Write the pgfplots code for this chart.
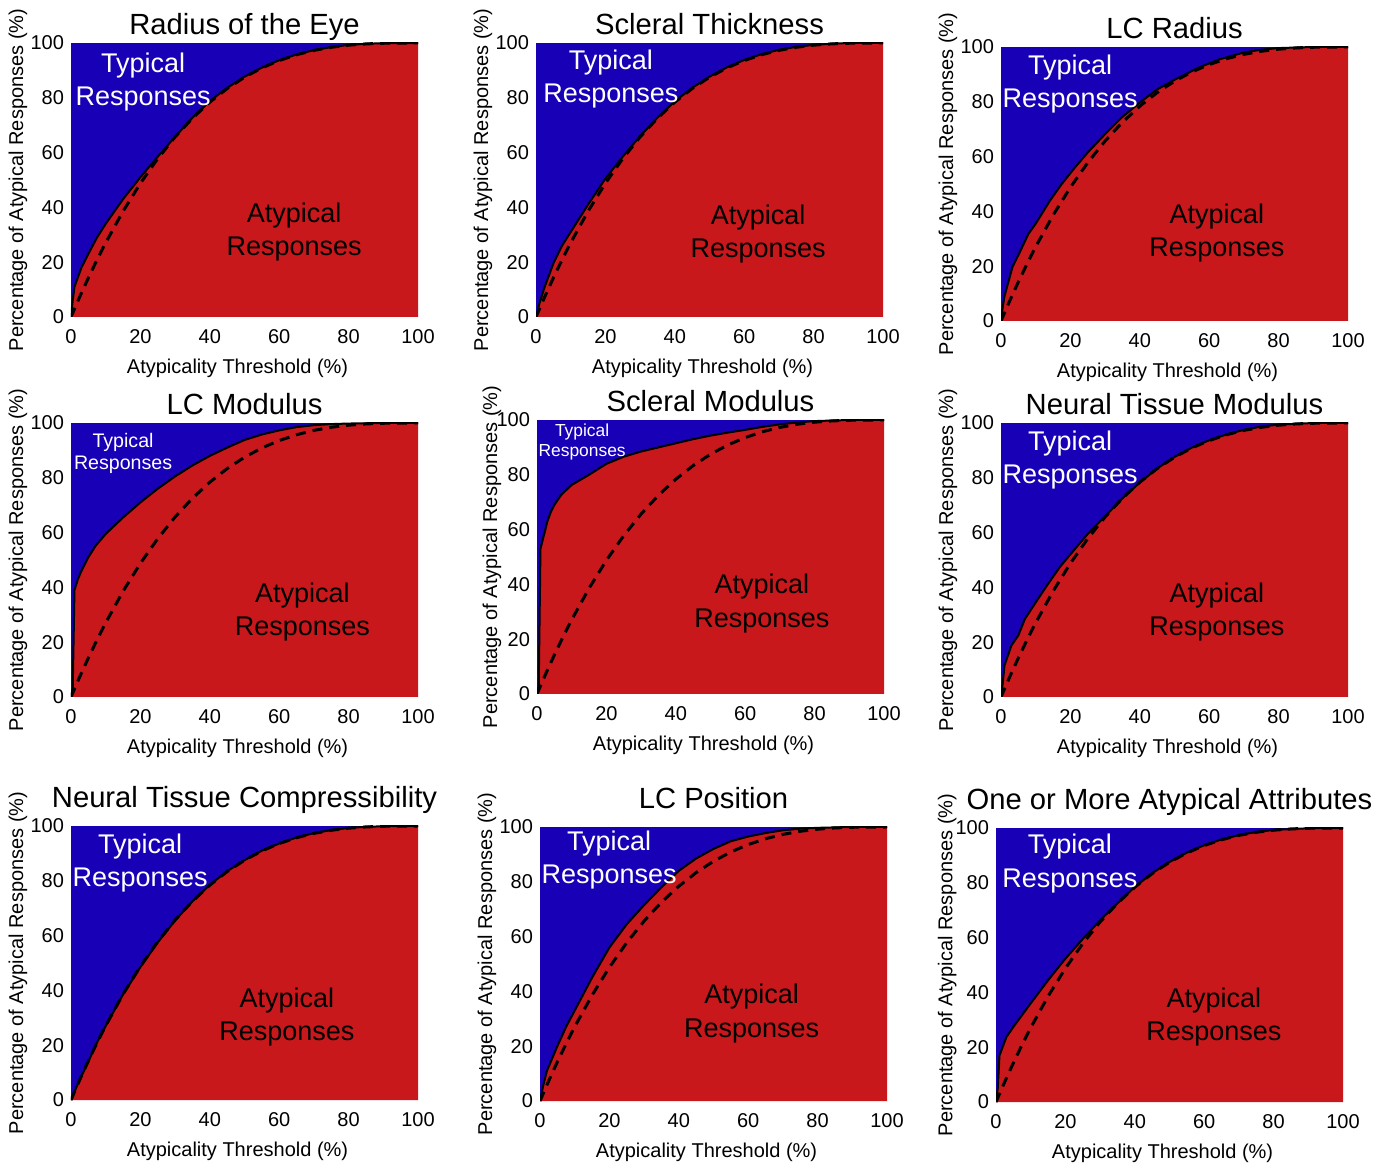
\documentclass[border=0pt]{standalone}
\usepackage{fontspec}
\setmainfont{Liberation Sans}
\usepackage{pgfplots}
\usepackage{pgfplotstable}
\pgfplotsset{compat=1.18}

\definecolor{typblue}{RGB}{24,0,182}
\definecolor{atyred}{RGB}{200,24,28}

% reference curve (dashed), the same in every panel
\pgfplotstableread{
x y
0 0
2.5 7.31
5 14.26
7.5 20.85
10 27.10
15 38.59
20 48.80
25 57.81
30 65.70
35 72.54
40 78.40
45 83.36
50 87.50
55 90.89
60 93.60
65 95.71
70 97.30
75 98.44
80 99.20
85 99.66
90 99.90
95 99.99
100 100
}\refcurve

\pgfplotstableread{
x y
0 0
0.5 6
1 11
3 18
5 23
7.5 29
10 34
15 43
20 51
25 58.5
30 65.8
35 72.7
40 78.8
45 83.6
50 87.7
55 91
60 93.7
65 95.8
70 97.4
75 98.5
80 99.3
85 99.7
90 99.95
100 100
}\eyeR

\pgfplotstableread{
x y
0 0
1 5
2.5 11
5 19.5
7.5 26
10 31
15 41
20 50.5
25 58.5
30 66
35 72.7
40 78.7
45 83.6
50 87.7
55 91.1
60 93.8
65 95.9
70 97.5
75 98.6
80 99.3
85 99.7
90 100
100 100
}\sclT

\pgfplotstableread{
x y
0 0
0.5 5
1 9
3.3 19.7
5 24
7.9 31.8
10 35.5
14.1 43.9
17.5 50
21.3 56
25 61.5
30 68.2
35 74.5
40.6 80.3
45 84.5
50 88
57 92.5
63 95.5
70 98
75 99
80 99.6
90 100
100 100
}\lcR

\pgfplotstableread{
x y
0 0
0.5 3
1 39
2 43
3 46
5 51
7 55
10 59.5
15 65.5
20 71
25 76
30 80.5
35 84.5
40 88
45 91
50 93.8
55 95.8
60 97.3
65 98.5
70 99.2
75 99.6
80 99.8
90 100
100 100
}\lcM

\pgfplotstableread{
x y
0 0
0.5 3
1 53
2 58
3 63
4 66.5
5 69
7 72.7
10 76.3
15 80
20 84
25 86.6
30 88.5
35 90
40 91.5
45 93
50 94.3
55 95.4
60 96.4
65 97.5
70 98.4
75 99.1
80 99.6
90 100
100 100
}\sclM

\pgfplotstableread{
x y
0 0
0.5 5
1 11.5
3 18.8
5 22.5
6.9 28.5
10 34.5
13.2 40.6
17 47.5
21.3 54
25 59.5
30 66
35 72.5
39.6 77.8
45 83.4
50 87.6
55 91
60 93.7
65 95.8
70 97.5
75 98.7
80 99.4
90 100
100 100
}\ntM

\pgfplotstableread{
x y
0 0
1 3
2.5 7.3
5 14
7.5 21
10 27
15 38.5
20 48.5
25 57.5
30 65.5
35 72.5
40 78.5
45 83.5
50 87.5
55 91
60 93.6
65 95.8
70 97.4
75 98.5
80 99.3
85 99.7
90 99.9
100 100
}\ntC

\pgfplotstableread{
x y
0 0
1 6
2 11
5 20
7.5 27
10 33
15 45
20 56
25 64.5
30 71.5
35 78
40 84
45 88.5
50 92
55 94.8
60 96.5
65 97.8
70 98.8
75 99.4
80 99.7
90 100
100 100
}\lcP

\pgfplotstableread{
x y
0 0
0.5 5
1 17
3 23.7
5 27.4
10 36
15 44.4
20 52.3
25 59.5
30 66.3
35 72.5
40 78.5
45 83.5
50 87.6
55 91
60 93.7
65 95.8
70 97.4
75 98.5
80 99.3
90 99.9
100 100
}\oneM

\tikzset{
  big/.style={font=\fontsize{13.5}{16.7}\selectfont, align=center},
}

\pgfplotsset{
  panel/.style={
    scale only axis, width=173.5pt, height=137pt,
    anchor=south west,
    xmin=0, xmax=100, ymin=0, ymax=100,
    xtick={0,20,...,100}, ytick={0,20,...,100},
    axis line style={draw=none}, major tick length=0pt,
    axis background/.style={fill=typblue},
    /pgf/number format/assume math mode=true,
    tick label style={font=\fontsize{10}{12}\selectfont},
    xticklabel style={yshift=-2.5pt},
    xlabel={Atypicality Threshold (\%)},
    ylabel={Percentage of Atypical Responses (\%)},
    label style={font=\fontsize{10}{12}\selectfont},
    xlabel style={at={(axis description cs:0.48,-0.186)}, anchor=center},
    ylabel style={at={(axis description cs:-0.153,0.5)}, anchor=center},
    title style={font=\fontsize{14.6}{17}\selectfont, at={(axis description cs:0.5,0.989)}, anchor=base},
  },
  row3/.style={title style={at={(axis description cs:0.5,1.025)}}},
  aty/.style={fill=atyred, draw=none},
  cur/.style={black, line width=1pt},
  refc/.style={black, line width=1.5pt, dash pattern=on 5pt off 3.5pt},
}

\begin{document}
\begin{tikzpicture}
\useasboundingbox (0,0) rectangle (693pt,583.5pt);

% row 1
\begin{axis}[panel, at={(35.5pt,425pt)}, title={Radius of the Eye}]
  \addplot[aty] table {\eyeR} \closedcycle;
  \addplot[refc] table {\refcurve};
  \addplot[cur] table {\eyeR};
  \node[big, text=white] at (axis cs:20.8,85.8) {Typical\\Responses};
  \node[big, text=black] at (axis cs:64.3,31) {Atypical\\Responses};
\end{axis}

\begin{axis}[panel, at={(268pt,425pt)}, title={Scleral Thickness}]
  \addplot[aty] table {\sclT} \closedcycle;
  \addplot[refc] table {\refcurve};
  \addplot[cur] table {\sclT};
  \node[big, text=white] at (axis cs:21.6,86.9) {Typical\\Responses};
  \node[big, text=black] at (axis cs:64,30.3) {Atypical\\Responses};
\end{axis}

\begin{axis}[panel, at={(500.5pt,423pt)}, title={LC Radius}]
  \addplot[aty] table {\lcR} \closedcycle;
  \addplot[refc] table {\refcurve};
  \addplot[cur] table {\lcR};
  \node[big, text=white] at (axis cs:19.9,86.5) {Typical\\Responses};
  \node[big, text=black] at (axis cs:62.2,32) {Atypical\\Responses};
\end{axis}

% row 2
\begin{axis}[panel, at={(35.5pt,235pt)}, title={LC Modulus}]
  \addplot[aty] table {\lcM} \closedcycle;
  \addplot[refc] table {\refcurve};
  \addplot[cur] table {\lcM};
  \node[font=\fontsize{9.8}{11}\selectfont, align=center, text=white] at (axis cs:15,89) {Typical\\Responses};
  \node[big, text=black] at (axis cs:66.7,31) {Atypical\\Responses};
\end{axis}

\begin{axis}[panel, at={(268.5pt,236.5pt)}, title={Scleral Modulus},
  ylabel style={at={(axis description cs:-0.13,0.5)}}]
  \addplot[aty] table {\sclM} \closedcycle;
  \addplot[refc] table {\refcurve};
  \addplot[cur] table {\sclM};
  \node[font=\fontsize{8.7}{9.8}\selectfont, align=center, text=white] at (axis cs:13,92) {Typical\\Responses};
  \node[big, text=black] at (axis cs:64.8,33) {Atypical\\Responses};
\end{axis}

\begin{axis}[panel, at={(500.5pt,235pt)}, title={Neural Tissue Modulus}]
  \addplot[aty] table {\ntM} \closedcycle;
  \addplot[refc] table {\refcurve};
  \addplot[cur] table {\ntM};
  \node[big, text=white] at (axis cs:19.9,86.5) {Typical\\Responses};
  \node[big, text=black] at (axis cs:62.2,31) {Atypical\\Responses};
\end{axis}

% row 3
\begin{axis}[panel, row3, at={(35.5pt,33.5pt)}, title={Neural Tissue Compressibility}]
  \addplot[aty] table {\ntC} \closedcycle;
  \addplot[refc] table {\refcurve};
  \addplot[cur] table {\ntC};
  \node[big, text=white] at (axis cs:19.9,86.5) {Typical\\Responses};
  \node[big, text=black] at (axis cs:62.2,30.3) {Atypical\\Responses};
\end{axis}

\begin{axis}[panel, row3, at={(270pt,33pt)}, title={LC Position}]
  \addplot[aty] table {\lcP} \closedcycle;
  \addplot[refc] table {\refcurve};
  \addplot[cur] table {\lcP};
  \node[big, text=white] at (axis cs:19.9,88) {Typical\\Responses};
  \node[big, text=black] at (axis cs:61,32) {Atypical\\Responses};
\end{axis}

\begin{axis}[panel, row3, at={(498pt,32.5pt)}, title={One or More Atypical Attributes},
  ylabel style={at={(axis description cs:-0.141,0.5)}}]
  \addplot[aty] table {\oneM} \closedcycle;
  \addplot[refc] table {\refcurve};
  \addplot[cur] table {\oneM};
  \node[big, text=white] at (axis cs:21.3,87) {Typical\\Responses};
  \node[big, text=black] at (axis cs:62.8,31) {Atypical\\Responses};
\end{axis}
\end{tikzpicture}
\end{document}
